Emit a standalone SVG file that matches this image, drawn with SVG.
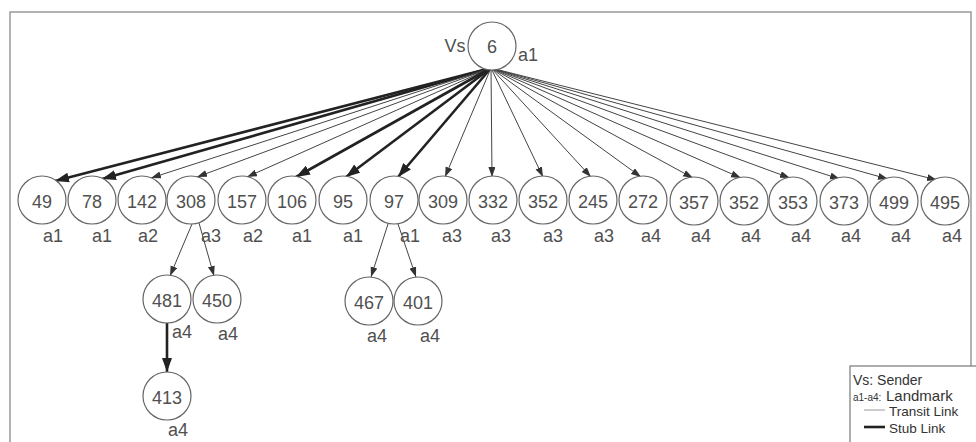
<svg xmlns="http://www.w3.org/2000/svg" width="976" height="442" viewBox="0 0 976 442">
<style>
.n{fill:#fff;stroke:#666;stroke-width:1.2}
.t{font-family:"Liberation Sans",Arial,sans-serif;font-size:18px;fill:#505050;text-anchor:middle}
.l{font-family:"Liberation Sans",Arial,sans-serif;font-size:18px;fill:#505050;text-anchor:middle}
.tr{stroke:#444;stroke-width:1;fill:none}
.st{stroke:#222;stroke-width:2.6;fill:none}
.lg{font-family:"Liberation Sans",Arial,sans-serif;font-size:13.5px;fill:#333}
</style>
<defs>
<marker id="at" markerUnits="userSpaceOnUse" markerWidth="11" markerHeight="8" refX="10" refY="3.5" orient="auto"><path d="M0,0 L10,3.5 L0,7 z" fill="#333"/></marker>
<marker id="as" markerUnits="userSpaceOnUse" markerWidth="15" markerHeight="11" refX="14" refY="5" orient="auto"><path d="M0,0 L14,5 L0,10 z" fill="#222"/></marker>
</defs>
<rect x="10" y="12" width="961" height="440" fill="#fff" stroke="#999" stroke-width="1.5"/>
<g id="connectors">
<line class="st" x1="491" y1="68" x2="55" y2="181" marker-end="url(#as)"/>
<line class="st" x1="491" y1="68" x2="102" y2="179" marker-end="url(#as)"/>
<line class="tr" x1="491" y1="68" x2="151" y2="178" marker-end="url(#at)"/>
<line class="tr" x1="491" y1="68" x2="197" y2="177" marker-end="url(#at)"/>
<line class="tr" x1="491" y1="68" x2="247" y2="177" marker-end="url(#at)"/>
<line class="st" x1="491" y1="68" x2="296" y2="177" marker-end="url(#as)"/>
<line class="st" x1="491" y1="68" x2="346" y2="177" marker-end="url(#as)"/>
<line class="st" x1="491" y1="68" x2="398" y2="177" marker-end="url(#as)"/>
<line class="tr" x1="491" y1="68" x2="445" y2="177" marker-end="url(#at)"/>
<line class="tr" x1="491" y1="68" x2="492" y2="177" marker-end="url(#at)"/>
<line class="tr" x1="491" y1="68" x2="543" y2="177" marker-end="url(#at)"/>
<line class="tr" x1="491" y1="68" x2="591" y2="177" marker-end="url(#at)"/>
<line class="tr" x1="491" y1="68" x2="641" y2="177" marker-end="url(#at)"/>
<line class="tr" x1="491" y1="68" x2="693" y2="178" marker-end="url(#at)"/>
<line class="tr" x1="491" y1="68" x2="741" y2="178" marker-end="url(#at)"/>
<line class="tr" x1="491" y1="68" x2="790" y2="178" marker-end="url(#at)"/>
<line class="tr" x1="491" y1="68" x2="840" y2="179" marker-end="url(#at)"/>
<line class="tr" x1="491" y1="68" x2="888" y2="179" marker-end="url(#at)"/>
<line class="tr" x1="491" y1="68" x2="937" y2="180" marker-end="url(#at)"/>
<line class="tr" x1="192" y1="224" x2="170" y2="276" marker-end="url(#at)"/>
<line class="tr" x1="199" y1="223" x2="214" y2="276" marker-end="url(#at)"/>
<line class="tr" x1="388" y1="224" x2="371" y2="277" marker-end="url(#at)"/>
<line class="tr" x1="398" y1="224" x2="416" y2="277" marker-end="url(#at)"/>
<line class="st" x1="167" y1="323" x2="167" y2="372" marker-end="url(#as)"/>
</g>
<g id="node-6"><circle class="n" cx="492" cy="46" r="24"/><text class="t" x="492" y="53">6</text><text class="l" x="455" y="52">Vs</text><text class="l" x="528" y="61">a1</text></g>
<g id="node-49"><circle class="n" cx="42" cy="200" r="24"/><text class="t" x="42" y="208">49</text><text class="l" x="53" y="242">a1</text></g>
<g id="node-78"><circle class="n" cx="92" cy="200" r="24"/><text class="t" x="92" y="208">78</text><text class="l" x="102" y="242">a1</text></g>
<g id="node-142"><circle class="n" cx="142" cy="200" r="24"/><text class="t" x="142" y="208">142</text><text class="l" x="148" y="242">a2</text></g>
<g id="node-308"><circle class="n" cx="191" cy="200" r="24"/><text class="t" x="191" y="208">308</text><text class="l" x="211" y="242">a3</text></g>
<g id="node-157"><circle class="n" cx="242" cy="200" r="24"/><text class="t" x="242" y="208">157</text><text class="l" x="253" y="242">a2</text></g>
<g id="node-106"><circle class="n" cx="292" cy="200" r="24"/><text class="t" x="292" y="208">106</text><text class="l" x="302" y="242">a1</text></g>
<g id="node-95"><circle class="n" cx="343" cy="200" r="24"/><text class="t" x="343" y="208">95</text><text class="l" x="353" y="242">a1</text></g>
<g id="node-97"><circle class="n" cx="394" cy="200" r="24"/><text class="t" x="394" y="208">97</text><text class="l" x="410" y="242">a1</text></g>
<g id="node-309"><circle class="n" cx="443" cy="200" r="24"/><text class="t" x="443" y="208">309</text><text class="l" x="452" y="242">a3</text></g>
<g id="node-332"><circle class="n" cx="493" cy="200" r="24"/><text class="t" x="493" y="208">332</text><text class="l" x="501" y="242">a3</text></g>
<g id="node-352a"><circle class="n" cx="543" cy="200" r="24"/><text class="t" x="543" y="208">352</text><text class="l" x="553" y="242">a3</text></g>
<g id="node-245"><circle class="n" cx="593" cy="200" r="24"/><text class="t" x="593" y="208">245</text><text class="l" x="604" y="242">a3</text></g>
<g id="node-272"><circle class="n" cx="643" cy="200" r="24"/><text class="t" x="643" y="208">272</text><text class="l" x="651" y="242">a4</text></g>
<g id="node-357"><circle class="n" cx="694" cy="201" r="24"/><text class="t" x="694" y="209">357</text><text class="l" x="701" y="242">a4</text></g>
<g id="node-352b"><circle class="n" cx="744" cy="201" r="24"/><text class="t" x="744" y="209">352</text><text class="l" x="751" y="242">a4</text></g>
<g id="node-353"><circle class="n" cx="793" cy="201" r="24"/><text class="t" x="793" y="209">353</text><text class="l" x="801" y="242">a4</text></g>
<g id="node-373"><circle class="n" cx="844" cy="201" r="24"/><text class="t" x="844" y="209">373</text><text class="l" x="851" y="242">a4</text></g>
<g id="node-499"><circle class="n" cx="894" cy="201" r="24"/><text class="t" x="894" y="209">499</text><text class="l" x="901" y="242">a4</text></g>
<g id="node-495"><circle class="n" cx="945" cy="201" r="24"/><text class="t" x="945" y="209">495</text><text class="l" x="952" y="242">a4</text></g>
<g id="node-481"><circle class="n" cx="167" cy="299" r="24"/><text class="t" x="167" y="307">481</text><text class="l" x="182" y="338">a4</text></g>
<g id="node-450"><circle class="n" cx="217" cy="299" r="24"/><text class="t" x="217" y="307">450</text><text class="l" x="228" y="340">a4</text></g>
<g id="node-467"><circle class="n" cx="369" cy="301" r="24"/><text class="t" x="369" y="309">467</text><text class="l" x="377" y="342">a4</text></g>
<g id="node-401"><circle class="n" cx="418" cy="301" r="24"/><text class="t" x="418" y="309">401</text><text class="l" x="430" y="342">a4</text></g>
<g id="node-413"><circle class="n" cx="167" cy="396" r="24"/><text class="t" x="167" y="404">413</text><text class="l" x="178" y="436">a4</text></g>
<g id="legend">
<rect x="850" y="366" width="140" height="90" fill="#fff" stroke="#777" stroke-width="1.2"/>
<text class="lg" x="853" y="385" style="font-size:14px">Vs: Sender</text>
<text class="lg" x="853" y="401" style="font-size:10px">a1-a4:</text>
<text class="lg" x="886" y="401" style="font-size:15px">Landmark</text>
<line x1="864" y1="410" x2="885" y2="410" stroke="#999" stroke-width="1"/>
<text class="lg" x="889" y="416">Transit Link</text>
<line x1="864" y1="427" x2="885" y2="427" stroke="#222" stroke-width="2.6"/>
<text class="lg" x="889" y="433">Stub Link</text>
</g>
</svg>
